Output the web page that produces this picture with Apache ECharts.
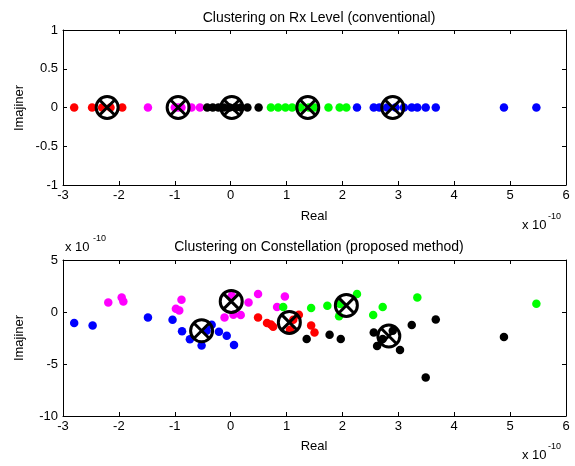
<!DOCTYPE html>
<html>
<head>
<meta charset="utf-8">
<script src="https://cdn.jsdelivr.net/npm/echarts@6/dist/echarts.min.js"></script>
<style>
html, body { margin: 0; padding: 0; background: #fff; }
#main { width: 575px; height: 466px; }
</style>
</head>
<body>
<div id="main"></div>
<script>
var chartdom = document.getElementById("main");
var chart = echarts.init(chartdom);

// values in units of 1e-10
var xTicks = [-3, -2, -1, 0, 1, 2, 3, 4, 5, 6];

// top plot: Rx level, all on the real axis
var rxRed = [-2.80, -2.48, -2.30, -2.15, -1.94];
var rxMagenta = [-1.48, -1.00, -0.94, -0.88, -0.70, -0.55];
var rxBlack = [-0.42, -0.32, -0.22, -0.12, -0.02, 0.08, 0.18, 0.30, 0.50];
var rxGreen = [0.72, 0.85, 0.98, 1.10, 1.25, 1.40, 1.50, 1.75, 1.95, 2.07];
var rxBlue = [2.26, 2.56, 2.66, 2.80, 2.95, 3.10, 3.24, 3.34, 3.49, 3.67, 4.89, 5.47];
var rxCenters = [-2.21, -0.94, 0.02, 1.38, 2.90];

// bottom plot: constellation points [real, imag]
var csBlue = [[-2.80, -1.06], [-2.47, -1.29], [-1.48, -0.52], [-1.04, -0.74], [-0.87, -1.86],
    [-0.73, -2.63], [-0.52, -3.21], [-0.34, -1.22], [-0.43, -1.80], [-0.21, -1.89],
    [-0.07, -2.28], [0.06, -3.18]];
var csMagenta = [[-2.19, 0.92], [-1.95, 1.40], [-1.92, 1.02], [-0.88, 1.18], [-0.98, 0.32],
    [-0.92, 0.15], [-0.11, -0.52], [0.02, 1.57], [0.05, -0.26], [0.18, -0.29],
    [0.32, 0.92], [0.49, 1.73], [0.97, 1.50], [0.83, 0.48]];
var csRed = [[0.49, -0.52], [0.65, -1.06], [0.76, -1.41], [0.72, -1.20], [1.06, -1.70],
    [1.12, -0.74], [1.22, -0.26], [1.44, -1.29], [1.50, -1.96]];
var csGreen = [[0.94, 0.48], [1.44, 0.38], [1.73, 0.61], [1.94, -0.42], [1.96, 0.77],
    [2.26, 1.73], [2.55, -0.29], [2.72, 0.48], [3.34, 1.40], [5.47, 0.80]];
var csBlack = [[1.36, -2.60], [1.77, -2.18], [1.97, -2.60], [2.56, -1.96], [2.62, -3.27],
    [2.72, -2.60], [2.90, -1.80], [3.03, -3.65], [3.24, -1.25], [3.67, -0.71],
    [3.49, -6.29], [4.89, -2.40]];
var csCenters = [[-0.52, -1.80], [0.01, 1.02], [1.05, -1.00], [2.07, 0.63], [2.83, -2.31]];

var fnt = 'Liberation Sans, Arial, sans-serif';
var crossPath = 'path://M0,-10 A10,10 0 1,1 0,10 A10,10 0 1,1 0,-10 Z M-7.07,-7.07 L7.07,7.07 M7.07,-7.07 L-7.07,7.07';

function onAxis(arr) {
    return arr.map(function (v) { return [v, 0]; });
}

function xAx(grid, showLabel, pos) {
    return {
        type: 'value', gridIndex: grid, position: pos, min: -3, max: 6, interval: 1,
        axisLine: { show: true, onZero: false, lineStyle: { color: '#000', width: 1 } },
        axisTick: { show: true, inside: true, length: 4, lineStyle: { color: '#000' } },
        axisLabel: { show: showLabel, color: '#000', fontFamily: fnt, fontSize: 13, margin: 4 },
        splitLine: { show: false }
    };
}

function yAx(grid, showLabel, pos, mn, mx, step) {
    return {
        type: 'value', gridIndex: grid, position: pos, min: mn, max: mx, interval: step,
        axisLine: { show: true, onZero: false, lineStyle: { color: '#000', width: 1 } },
        axisTick: { show: true, inside: true, length: 4, lineStyle: { color: '#000' } },
        axisLabel: { show: showLabel, color: '#000', fontFamily: fnt, fontSize: 13, margin: 5 },
        splitLine: { show: false }
    };
}

function dots(name, color, data, xi, yi) {
    return {
        name: name, type: 'scatter', xAxisIndex: xi, yAxisIndex: yi,
        symbol: 'circle', symbolSize: 8.5, silent: true,
        itemStyle: { color: color, opacity: 1 },
        data: data
    };
}

function centers(data, xi, yi) {
    return {
        type: 'scatter', xAxisIndex: xi, yAxisIndex: yi, z: 5,
        symbol: crossPath, symbolSize: 22, silent: true,
        itemStyle: { color: 'rgba(0,0,0,0)', borderColor: '#000', borderWidth: 3, opacity: 1 },
        data: data
    };
}

function txt(x, y, s, size, align) {
    return { type: 'text', x: x, y: y, style: { text: s, fontFamily: fnt, fontSize: size, fill: '#000', align: align || 'left' } };
}

var option = {
    animation: false,
    backgroundColor: '#fff',
    title: [
        { text: 'Clustering on Rx Level (conventional)', left: 314, top: 6, textAlign: 'center',
          textStyle: { fontFamily: fnt, fontSize: 14, fontWeight: 'normal', color: '#000' } },
        { text: 'Clustering on Constellation (proposed method)', left: 314, top: 235, textAlign: 'center',
          textStyle: { fontFamily: fnt, fontSize: 14, fontWeight: 'normal', color: '#000' } }
    ],
    grid: [
        { left: 63, right: 9, top: 30, height: 155 },
        { left: 63, right: 9, top: 260, height: 156 }
    ],
    xAxis: [xAx(0, true, 'bottom'), xAx(0, false, 'top'), xAx(1, true, 'bottom'), xAx(1, false, 'top')],
    yAxis: [yAx(0, true, 'left', -1, 1, 0.5), yAx(0, false, 'right', -1, 1, 0.5),
            yAx(1, true, 'left', -10, 5, 5), yAx(1, false, 'right', -10, 5, 5)],
    graphic: [
        txt(314, 210, 'Real', 13, 'center'),
        txt(314, 440, 'Real', 13, 'center'),
        { type: 'text', x: 19, y: 108, rotation: Math.PI / 2, style: { text: 'Imajiner', fontFamily: fnt, fontSize: 13, fill: '#000', align: 'center', verticalAlign: 'middle' } },
        { type: 'text', x: 19, y: 338, rotation: Math.PI / 2, style: { text: 'Imajiner', fontFamily: fnt, fontSize: 13, fill: '#000', align: 'center', verticalAlign: 'middle' } },
        txt(522, 219, 'x 10', 13),
        txt(548, 212, '-10', 9),
        txt(522, 449, 'x 10', 13),
        txt(548, 442, '-10', 9),
        txt(65, 241, 'x 10', 13),
        txt(93, 234, '-10', 9)
    ],
    series: [
        dots('red', '#ff0000', onAxis(rxRed), 0, 0),
        dots('magenta', '#ff00ff', onAxis(rxMagenta), 0, 0),
        dots('black', '#000000', onAxis(rxBlack), 0, 0),
        dots('green', '#00ff00', onAxis(rxGreen), 0, 0),
        dots('blue', '#0000ff', onAxis(rxBlue), 0, 0),
        centers(onAxis(rxCenters), 0, 0),
        dots('blue', '#0000ff', csBlue, 2, 2),
        dots('magenta', '#ff00ff', csMagenta, 2, 2),
        dots('red', '#ff0000', csRed, 2, 2),
        dots('green', '#00ff00', csGreen, 2, 2),
        dots('black', '#000000', csBlack, 2, 2),
        centers(csCenters, 2, 2)
    ]
};

chart.setOption(option);
</script>
</body>
</html>
